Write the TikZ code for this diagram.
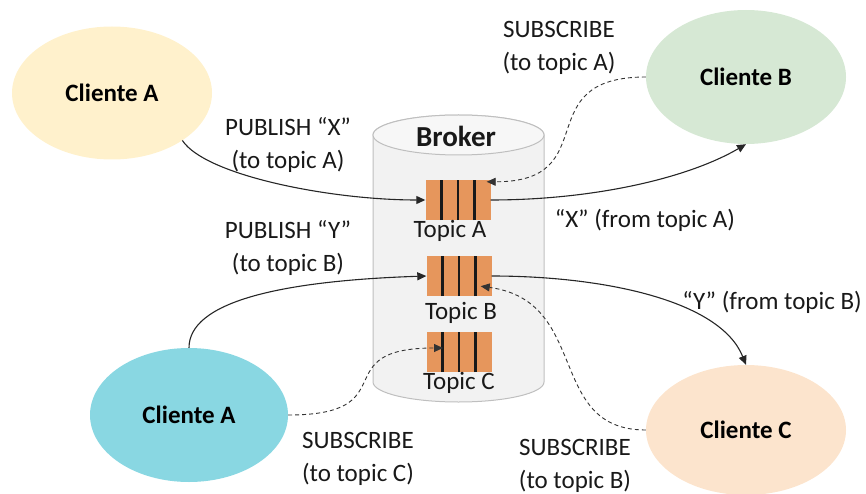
\documentclass[tikz,border=0pt]{standalone}
\usepackage{fontspec}
\setmainfont{Carlito}
\usetikzlibrary{positioning,shapes.geometric,arrows.meta,calc}

\definecolor{clientyellow}{RGB}{255,241,204}
\definecolor{clientcyan}{RGB}{137,215,226}
\definecolor{clientgreen}{RGB}{214,232,212}
\definecolor{clientpeach}{RGB}{252,228,205}
\definecolor{queueorange}{RGB}{230,150,92}
\definecolor{brokergray}{RGB}{191,191,191}

\begin{document}
\begin{tikzpicture}[x=1pt,y=1pt,
					>={Triangle[length=9pt,width=8pt]},
					client node/.style={ellipse,fill=#1,inner sep=0pt,minimum width=200pt,minimum height=133pt,font=\fontsize{25}{30}\selectfont\bfseries},
					queue node/.style={rectangle,fill=queueorange,inner sep=0pt,minimum width=65pt,minimum height=40pt},
					slot/.style={line width=2.6pt,black!90},
					text node/.style={inner sep=0pt,align=center,text=black!90,font=\fontsize{25}{33}\selectfont},
					pub line/.style={->,line width=1.1pt,black!85},
					sub line/.style={->,line width=0.9pt,black!80,dash pattern=on 4pt off 3pt}]

  \useasboundingbox (0,0) rectangle (866,-494);

  % broker
  \filldraw[fill=black!5,draw=brokergray,line width=1pt] (373,-135) -- (373,-382) arc[start angle=180,end angle=360,x radius=85.5,y radius=20] -- (544,-135) arc[start angle=0,end angle=180,x radius=85.5,y radius=20] -- cycle;
  \filldraw[fill=black!3,draw=brokergray,line width=1pt] (458.5,-135) ellipse[x radius=85.5,y radius=20];
  \node[text node,font=\fontsize{29}{33}\selectfont\bfseries] (broker) at (456,-136) {Broker};

  % queues
  \node[queue node] (topicA) at (458,-200) {};
  \node[queue node] (topicB) at (459,-276) {};
  \node[queue node] (topicC) at (459,-352) {};
  \foreach \t in {topicA,topicB,topicC}
    \foreach \k in {1,2,3}
      \draw[slot] ($(\t.south west)!\k/4!(\t.south east)$) -- ($(\t.north west)!\k/4!(\t.north east)$);

  \node[text node] (labelA) [below=0pt of topicA,xshift=-8pt] {Topic A};
  \node[text node] (labelB) [below=6pt of topicB,xshift=2pt] {Topic B};
  \node[text node] (labelC) [below=0pt of topicC] {Topic C};

  % clients
  \node[client node=clientyellow] (clientA) at (112,-93) {Cliente A};
  \node[client node=clientcyan,minimum width=198pt,minimum height=134pt] (clientA2) at (189,-415) {Cliente A};
  \node[client node=clientgreen,minimum height=134pt] (clientB) at (746,-77) {Cliente B};
  \node[client node=clientpeach,minimum height=130pt] (clientC) at (746,-430) {Cliente C};

  % publish / deliver
  \draw[pub line] (clientA.-34) .. controls +(23,-35) and +(-95,0) .. (topicA.west);
  \draw[pub line] (clientA2.north) .. controls +(0,45) and +(-150,-5) .. (topicB.west);
  \draw[pub line] (topicA.east) .. controls +(100,0) and +(-60,-35) .. (clientB.south);
  \draw[pub line] (topicB.east) .. controls +(110,0) and +(-26,65) .. (clientC.north);

  % subscribe
  \draw[sub line] (clientA2.east) .. controls +(119,0) and +(-119,0) .. ([shift={(-16pt,4pt)}]topicC.center);
  \draw[sub line] (clientB.west) .. controls +(-119,0) and +(119,0) .. ([shift={(-4pt,-2pt)}]topicA.north east);
  \draw[sub line] (clientC.west) .. controls +(-100,0) and +(110,-15) .. ([shift={(-11pt,10pt)}]topicB.south east);

  % labels
  \node[text node] (pubX) at (288,-145) {PUBLISH “X”\\(to topic A)};
  \node[text node] (pubY) at (288,-248) {PUBLISH “Y”\\(to topic B)};
  \node[text node] (subC) at (358,-459) {SUBSCRIBE\\(to topic C)};
  \node[text node] (subA) at (559,-48) {SUBSCRIBE\\(to topic A)};
  \node[text node] (fromA) at (645,-220) {“X” (from topic A)};
  \node[text node] (fromB) at (772,-302) {“Y” (from topic B)};
  \node[text node] (subB) at (575,-466) {SUBSCRIBE\\(to topic B)};
\end{tikzpicture}
\end{document}
